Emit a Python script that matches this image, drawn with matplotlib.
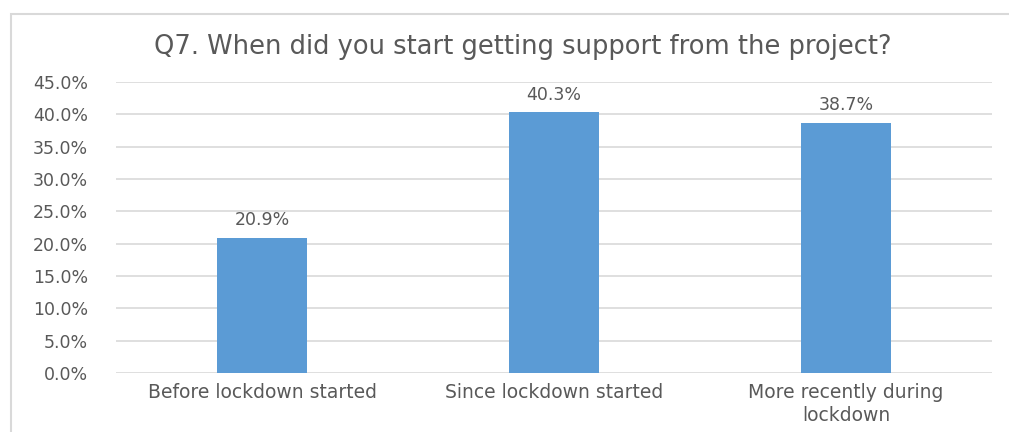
import matplotlib.pyplot as plt
from matplotlib.patches import Rectangle
from matplotlib.ticker import FuncFormatter, MultipleLocator

categories = ["Before lockdown started", "Since lockdown started", "More recently during\nlockdown"]
values = [20.9, 40.3, 38.7]
title = "Q7. When did you start getting support from the project?"

plt.rcParams["font.family"] = ["DejaVu Sans"]
text_col = "#595959"
grid_col = "#D9D9D9"

fig = plt.figure(figsize=(10.09, 4.32), dpi=100)
ax = fig.add_axes([0.115, 0.1366, 0.868, 0.6734])

x = range(len(categories))
bars = ax.bar(x, values, width=0.31, color="#5B9BD5", zorder=3)
for b, v in zip(bars, values):
    ax.text(b.get_x() + b.get_width() / 2, v + 1.3, f"{v:.1f}%",
            ha="center", va="bottom", fontsize=12.5, color=text_col)

ax.set_xlim(-0.5, len(categories) - 0.5)
ax.set_ylim(0, 45)
ax.yaxis.set_major_locator(MultipleLocator(5))
ax.yaxis.set_major_formatter(FuncFormatter(lambda v, p: f"{v:.1f}%"))
ax.set_xticks(list(x))
ax.set_xticklabels(categories, fontsize=13.5, color=text_col, linespacing=1.3)
ax.tick_params(axis="y", labelsize=12.5, labelcolor=text_col, length=0, pad=20)
ax.tick_params(axis="x", length=0, pad=7)
ax.grid(True, axis="y", color=grid_col, linewidth=1.2, zorder=0)
for s in ax.spines.values():
    s.set_visible(False)

fig.text(0.518, 0.891, title, ha="center", va="center", fontsize=18.5, color=text_col)

# chart border
fig.patches.append(Rectangle((11 / 1009, -0.05), 1.1, 1 - 14 / 432 + 0.05,
                             transform=fig.transFigure, fill=False,
                             edgecolor=grid_col, linewidth=1.5))

fig.savefig("out.png", dpi=100)
